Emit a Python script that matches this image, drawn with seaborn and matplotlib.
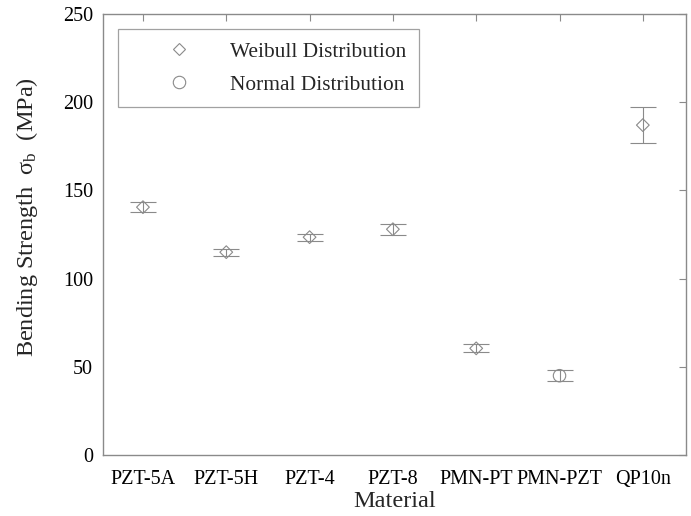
import matplotlib
matplotlib.use("Agg")
import matplotlib.pyplot as plt
import seaborn as sns
import numpy as np
import pandas as pd

materials = ["PZT-5A", "PZT-5H", "PZT-4", "PZT-8", "PMN-PT", "PMN-PZT", "QP10n"]
strength = [140.5, 115.0, 123.5, 128.0, 60.5, 45.0, 187.0]
err = [3.0, 2.0, 2.0, 3.0, 2.3, 3.0, 10.3]
dist = ["Weibull Distribution"] * 5 + ["Normal Distribution"] + ["Weibull Distribution"]

df = pd.DataFrame({"Material": materials, "Strength": strength, "Err": err, "Distribution": dist})

sns.set_theme(style="white")
plt.rcParams["font.family"] = ["Liberation Serif", "DejaVu Serif"]
plt.rcParams["mathtext.fontset"] = "custom"
plt.rcParams["mathtext.rm"] = "Liberation Serif"
plt.rcParams["mathtext.it"] = "Liberation Serif:italic"

gray = "#8a8a8a"
fig = plt.figure(figsize=(6.91, 5.16), dpi=100)
ax = fig.add_axes([0.149, 0.118, 0.844, 0.855])

pos = np.arange(len(materials))
ax.errorbar(pos, df["Strength"], yerr=df["Err"], fmt="none", ecolor=gray,
            elinewidth=0.8, capsize=9.4, capthick=0.8, zorder=2)

order = ["Weibull Distribution", "Normal Distribution"]
sns.scatterplot(data=df, x="Material", y="Strength", style="Distribution",
                size="Distribution",
                markers={"Weibull Distribution": "D", "Normal Distribution": "o"},
                sizes={"Weibull Distribution": 42, "Normal Distribution": 80},
                style_order=order, size_order=order,
                facecolor="none", edgecolor=gray, linewidth=0.8, ax=ax, zorder=3)

ax.set_xlim(-0.48, 6.52)
ax.set_ylim(0, 250)
ax.set_yticks([0, 50, 100, 150, 200, 250])
ax.set_xlabel("Material", fontsize=17.5, labelpad=1)
ax.set_ylabel("Bending Strength  σ$_{\\mathrm{b}}$  (MPa)", fontsize=17.5)
ax.yaxis.set_label_coords(-0.108, 0.54)
ax.tick_params(axis="both", direction="in", length=5, width=0.8, color=gray,
               labelsize=14.5, top=True, right=True, labelcolor="black")
ax.tick_params(axis="x", pad=11)
ax.tick_params(axis="y", pad=7)
for sp in ax.spines.values():
    sp.set_color(gray)
    sp.set_linewidth(1.0)

leg = ax.legend(loc="upper left", bbox_to_anchor=(0.0257, 0.966), frameon=True,
                fancybox=False, edgecolor=gray, fontsize=15.4, borderpad=0.6,
                labelspacing=0.6, handlelength=4.5, handletextpad=0.12,
                borderaxespad=0, title=None)
leg.get_frame().set_linewidth(0.9)
for h in leg.legend_handles:
    if hasattr(h, "set_markerfacecolor"):
        h.set_markerfacecolor("none")
        h.set_markeredgecolor(gray)
        h.set_markeredgewidth(0.8)

fig.savefig("out.png", dpi=100)
